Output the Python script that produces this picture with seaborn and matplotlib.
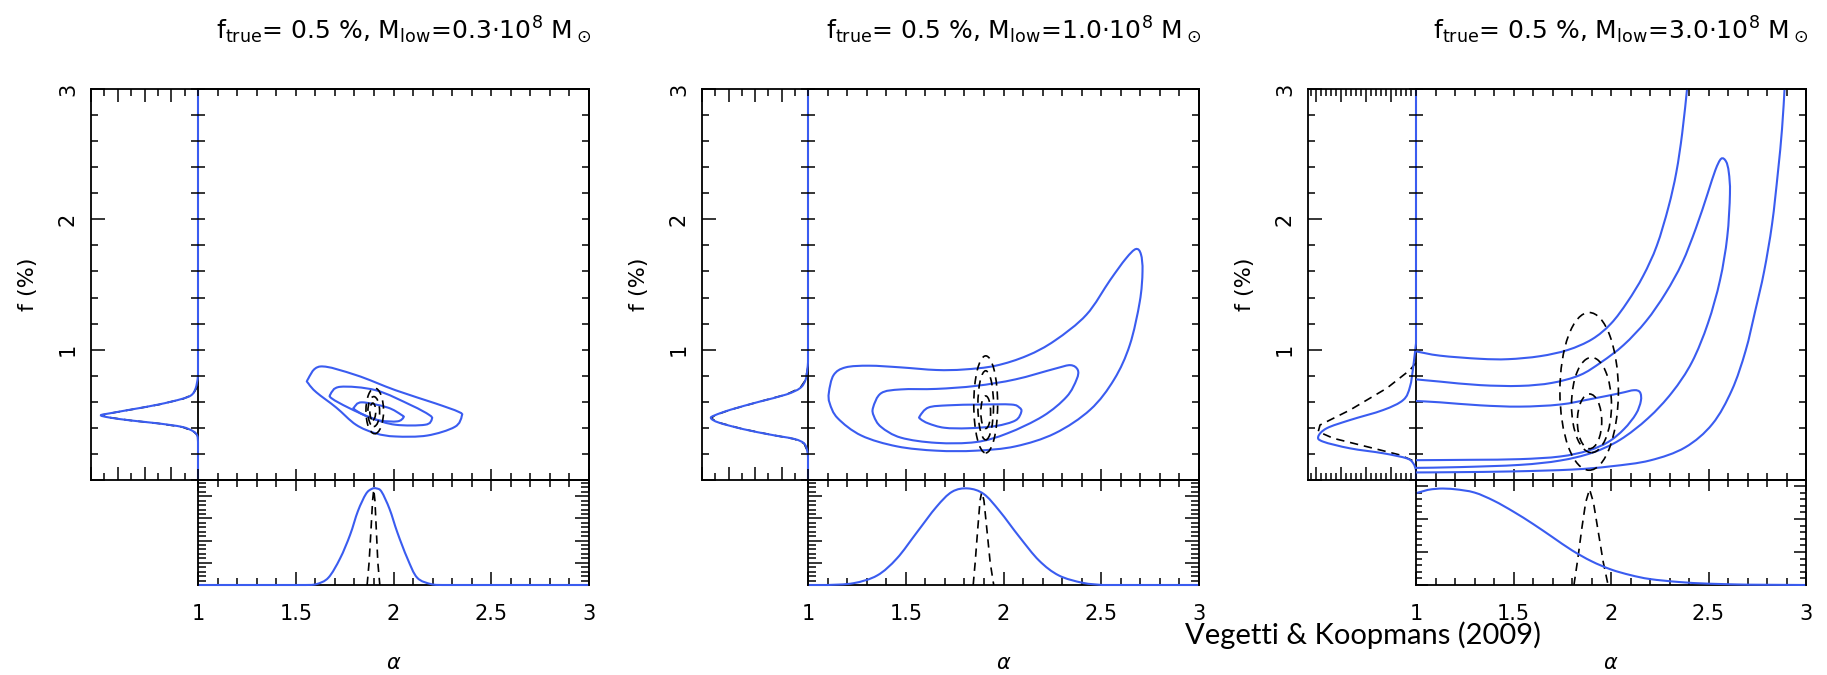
import matplotlib
matplotlib.use("Agg")
import matplotlib.pyplot as plt
import numpy as np
import seaborn as sns
from matplotlib.patches import Ellipse, PathPatch
from matplotlib.path import Path
from matplotlib.ticker import MultipleLocator, FuncFormatter, NullLocator

# ---------------- values ----------------
titles = [
    r"f$_{\rm true}$= 0.5 %, M$_{\rm low}$=0.3$\cdot$10$^8$ M$_\odot$",
    r"f$_{\rm true}$= 0.5 %, M$_{\rm low}$=1.0$\cdot$10$^8$ M$_\odot$",
    r"f$_{\rm true}$= 0.5 %, M$_{\rm low}$=3.0$\cdot$10$^8$ M$_\odot$",
]
alpha_ticks = [1, 1.5, 2, 2.5, 3]

# blue contours (alpha, f[%]) -- panel 1, closed
p1_outer = [(1.562, 0.772), (1.626, 0.871), (1.808, 0.805), (2.010, 0.689), (2.212, 0.589),
            (2.333, 0.523), (2.349, 0.490), (2.313, 0.407), (2.172, 0.341), (2.010, 0.334),
            (1.909, 0.358), (1.808, 0.424), (1.707, 0.556), (1.606, 0.672), (1.566, 0.738)]
p1_middle = [(1.677, 0.656), (1.727, 0.715), (1.909, 0.689), (2.091, 0.573), (2.182, 0.500),
             (2.196, 0.467), (2.162, 0.424), (2.010, 0.424), (1.889, 0.474), (1.768, 0.556),
             (1.687, 0.623)]
p1_inner = [(1.798, 0.556), (1.838, 0.596), (1.970, 0.556), (2.040, 0.500), (2.051, 0.480),
            (2.020, 0.450), (1.929, 0.457), (1.848, 0.500), (1.802, 0.540)]

# panel 2, closed
p2_outer = [(1.107, 0.672), (1.131, 0.805), (1.192, 0.864), (1.313, 0.877), (1.475, 0.864),
            (1.657, 0.844), (1.798, 0.848), (1.960, 0.877), (2.121, 0.954), (2.263, 1.070),
            (2.424, 1.268), (2.545, 1.533), (2.626, 1.699), (2.677, 1.772), (2.703, 1.732),
            (2.711, 1.599), (2.697, 1.368), (2.646, 1.036), (2.566, 0.772), (2.444, 0.540),
            (2.263, 0.358), (2.061, 0.258), (1.859, 0.225), (1.657, 0.225), (1.455, 0.258),
            (1.273, 0.341), (1.152, 0.474), (1.111, 0.589)]
p2_middle = [(1.333, 0.556), (1.374, 0.666), (1.475, 0.695), (1.657, 0.699), (1.859, 0.722),
             (2.061, 0.772), (2.263, 0.854), (2.343, 0.881), (2.380, 0.844), (2.374, 0.772),
             (2.323, 0.639), (2.202, 0.490), (2.020, 0.358), (1.859, 0.291), (1.657, 0.285),
             (1.475, 0.325), (1.374, 0.407), (1.337, 0.490)]
p2_inner = [(1.572, 0.490), (1.616, 0.556), (1.717, 0.573), (1.879, 0.579), (2.040, 0.579),
            (2.081, 0.556), (2.091, 0.523), (2.061, 0.457), (1.960, 0.414), (1.818, 0.397),
            (1.697, 0.401), (1.616, 0.434), (1.576, 0.467)]

# panel 3, open (they leave the box)
p3_outer_top = [(1.000, 0.987), (1.123, 0.954), (1.328, 0.930), (1.472, 0.927), (1.636, 0.950),
                (1.779, 0.998), (1.903, 1.080), (2.000, 1.200), (2.085, 1.368), (2.165, 1.566),
                (2.235, 1.798), (2.295, 2.096), (2.335, 2.361), (2.365, 2.659), (2.390, 3.000)]
p3_outer_right = [(2.890, 3.000), (2.877, 2.692), (2.856, 2.361), (2.826, 1.964), (2.785, 1.599),
                  (2.740, 1.300), (2.690, 0.990), (2.620, 0.690), (2.520, 0.430), (2.380, 0.250),
                  (2.200, 0.150), (2.000, 0.105), (1.800, 0.080), (1.500, 0.066), (1.200, 0.060),
                  (1.000, 0.058)]
p3_middle = [(1.000, 0.772), (1.123, 0.755), (1.328, 0.728), (1.533, 0.722), (1.697, 0.745),
             (1.841, 0.805), (1.950, 0.904), (2.065, 1.036), (2.180, 1.219), (2.280, 1.434),
             (2.365, 1.666), (2.435, 1.930), (2.495, 2.195), (2.535, 2.377), (2.565, 2.465),
             (2.590, 2.444), (2.604, 2.361), (2.610, 2.195), (2.596, 1.864), (2.559, 1.533),
             (2.497, 1.202), (2.415, 0.904), (2.313, 0.672), (2.190, 0.474), (2.046, 0.308),
             (1.903, 0.209), (1.738, 0.149), (1.533, 0.116), (1.226, 0.099), (1.000, 0.093)]
p3_inner = [(1.000, 0.606), (1.123, 0.596), (1.328, 0.573), (1.533, 0.563), (1.738, 0.579),
            (1.903, 0.623), (2.046, 0.666), (2.118, 0.689), (2.149, 0.672), (2.153, 0.606),
            (2.128, 0.507), (2.067, 0.391), (1.985, 0.291), (1.882, 0.225), (1.738, 0.180),
            (1.533, 0.160), (1.287, 0.155), (1.000, 0.152)]

# black dashed contours (centre alpha, centre f, width, height)
p1_dash_alpha = [1.904, 1.899, 1.894]
p1_dash_f = [0.530, 0.525, 0.525]
p1_dash_w = [0.090, 0.060, 0.030]
p1_dash_h = [0.350, 0.230, 0.130]
p2_dash_alpha = [1.909, 1.909, 1.909]
p2_dash_f = [0.580, 0.573, 0.520]
p2_dash_w = [0.122, 0.080, 0.050]
p2_dash_h = [0.745, 0.530, 0.250]
p3_dash_alpha = [1.888, 1.900, 1.890]
p3_dash_f = [0.680, 0.575, 0.450]
p3_dash_w = [0.300, 0.205, 0.125]
p3_dash_h = [1.210, 0.730, 0.420]

# left marginals: f and density (blue solid, black dashed)
p1_left_f = [3.0, 0.805, 0.722, 0.656, 0.623, 0.579, 0.540, 0.513, 0.497, 0.480, 0.457,
             0.434, 0.407, 0.374, 0.341, 0.291, 0.0]
p1_left_d = [0, 0, 0.06, 0.22, 0.59, 1.48, 2.52, 3.26, 3.63, 3.33, 2.52, 1.48, 0.59, 0.18,
             0.03, 0, 0]
p1_left_dash_f = [0.722, 0.656, 0.623, 0.579, 0.540, 0.513, 0.497, 0.480, 0.457, 0.434,
                  0.407, 0.374, 0.341]
p1_left_dash_d = [0, 0.20, 0.55, 1.45, 2.50, 3.25, 3.62, 3.33, 2.52, 1.48, 0.59, 0.18, 0]

p2_left_f = [3.0, 0.904, 0.838, 0.765, 0.705, 0.656, 0.599, 0.540, 0.497, 0.474, 0.440,
             0.391, 0.348, 0.315, 0.281, 0.225, 0.175, 0.0]
p2_left_d = [0, 0, 0.03, 0.10, 0.30, 0.82, 1.87, 2.91, 3.51, 3.66, 3.36, 2.46, 1.42, 0.52,
             0.15, 0.03, 0, 0]
p2_left_dash_f = [0.87, 0.765, 0.705, 0.656, 0.599, 0.540, 0.497, 0.474, 0.440, 0.391,
                  0.348, 0.315, 0.281, 0.225, 0.20]
p2_left_dash_d = [0, 0.10, 0.30, 0.82, 1.87, 2.91, 3.51, 3.66, 3.36, 2.46, 1.42, 0.52,
                  0.15, 0.03, 0]

p3_left_f = [3.0, 1.05, 0.87, 0.716, 0.614, 0.537, 0.46, 0.397, 0.333, 0.294, 0.243,
             0.205, 0.166, 0.128, 0.077, 0.0]
p3_left_d = [0, 0, 0.11, 0.24, 0.51, 1.31, 2.64, 3.57, 3.91, 3.71, 2.64, 1.31, 0.37, 0.11,
             0, 0]
p3_left_dash_f = [0.90, 0.844, 0.704, 0.537, 0.422, 0.371, 0.320, 0.256, 0.192, 0.141, 0.10]
p3_left_dash_d = [0, 0.24, 1.17, 2.64, 3.84, 3.91, 3.31, 1.97, 0.64, 0.04, 0]

# bottom marginals: alpha and density
p1_bot_a = [1.0, 1.55, 1.606, 1.667, 1.727, 1.778, 1.818, 1.859, 1.889, 1.913, 1.939,
            1.980, 2.020, 2.071, 2.121, 2.192, 2.25, 3.0]
p1_bot_u = [0, 0, 0.04, 0.33, 1.20, 2.26, 3.33, 4.10, 4.33, 4.35, 4.20, 3.42, 2.36, 1.20,
            0.33, 0.04, 0, 0]
p1_bot_dash_a = [1.865, 1.875, 1.885, 1.893, 1.899, 1.905, 1.912, 1.920, 1.930]
p1_bot_dash_u = [0, 1.0, 2.5, 3.8, 4.3, 3.8, 2.5, 1.0, 0]

p2_bot_a = [1.0, 1.10, 1.232, 1.354, 1.455, 1.556, 1.657, 1.737, 1.818, 1.899, 1.980,
            2.081, 2.182, 2.283, 2.404, 2.505, 3.0]
p2_bot_u = [0, 0, 0.08, 0.43, 1.20, 2.36, 3.52, 4.20, 4.35, 4.10, 3.33, 2.17, 1.10, 0.43,
            0.10, 0, 0]
p2_bot_dash_a = [1.845, 1.855, 1.868, 1.880, 1.889, 1.900, 1.915, 1.932, 1.950]
p2_bot_dash_u = [0, 1.0, 2.5, 3.8, 4.2, 3.8, 2.5, 1.0, 0]

p3_bot_a = [1.0, 1.06, 1.12, 1.2, 1.3, 1.4, 1.5, 1.6, 1.7, 1.8, 1.9, 2.0, 2.1, 2.2, 2.35,
            2.5, 2.7, 3.0]
p3_bot_u = [2.78, 2.88, 2.92, 2.90, 2.80, 2.55, 2.22, 1.85, 1.45, 1.05, 0.72, 0.47, 0.30,
            0.18, 0.09, 0.04, 0.01, 0]
p3_bot_dash_a = [1.81, 1.83, 1.85, 1.87, 1.89, 1.91, 1.935, 1.96, 1.985]
p3_bot_dash_u = [0, 0.8, 1.7, 2.5, 2.9, 2.5, 1.6, 0.7, 0]

panels = [
    dict(closed=True, contours=[p1_outer, p1_middle, p1_inner],
         dash=(p1_dash_alpha, p1_dash_f, p1_dash_w, p1_dash_h),
         left=(p1_left_d, p1_left_f), left_dash=(p1_left_dash_d, p1_left_dash_f),
         bot=(p1_bot_a, p1_bot_u), bot_dash=(p1_bot_dash_a, p1_bot_dash_u)),
    dict(closed=True, contours=[p2_outer, p2_middle, p2_inner],
         dash=(p2_dash_alpha, p2_dash_f, p2_dash_w, p2_dash_h),
         left=(p2_left_d, p2_left_f), left_dash=(p2_left_dash_d, p2_left_dash_f),
         bot=(p2_bot_a, p2_bot_u), bot_dash=(p2_bot_dash_a, p2_bot_dash_u)),
    dict(closed=False, contours=[p3_outer_top, p3_outer_right, p3_middle, p3_inner],
         dash=(p3_dash_alpha, p3_dash_f, p3_dash_w, p3_dash_h),
         left=(p3_left_d, p3_left_f), left_dash=(p3_left_dash_d, p3_left_dash_f),
         bot=(p3_bot_a, p3_bot_u), bot_dash=(p3_bot_dash_a, p3_bot_dash_u)),
]

# ---------------- layout (pixels of the 1827x675 canvas) ----------------
W, H = 1827, 675
lm_left = [91, 702, 1308]
split = [198, 808, 1416]
right = [589, 1199, 1806]
TOP, MID, BOT = 89, 480, 585
lm_xmax = [4.0, 4.0, 4.32]
lm_minor = [0.5, 0.5, 0.2]
bm_ymax = [4.73, 4.73, 3.18]
bm_major_len = [10, 10, 8.5]
bm_minor_len = [5.5, 5.5, 4.3]

BLUE = "#3a5cf0"
LW = 1.5
DASH = (0, (5, 3.5))

sns.set_style("ticks", {"axes.edgecolor": "black", "xtick.color": "black",
                        "ytick.color": "black", "text.color": "black"})
plt.rcParams["font.family"] = ["DejaVu Sans"]
plt.rcParams["mathtext.fontset"] = "dejavusans"
plt.rcParams["axes.linewidth"] = 1.3


def box(x0, x1, y0, y1):
    return [x0 / W, 1 - y1 / H, (x1 - x0) / W, (y1 - y0) / H]


def catmull(p, closed):
    # bezier segments of a Catmull-Rom curve through the read points
    p = np.asarray(p, float)
    if closed:
        p = np.vstack([p[-1], p, p[0], p[1]])
    else:
        p = np.vstack([p[0], p, p[-1]])
    verts, codes = [], []
    for i in range(1, len(p) - 2):
        verts += [p[i] + (p[i + 1] - p[i - 1]) / 6, p[i + 1] - (p[i + 2] - p[i]) / 6, p[i + 1]]
        codes += [Path.CURVE4] * 3
    return verts, codes, p[1]


def smooth(points, closed):
    verts, codes, start = catmull(points, closed)
    return Path([start] + verts, [Path.MOVETO] + codes)


def marginal_path(xs, ys):
    # straight run along the baseline at both ends, smooth bump in between
    pts = np.column_stack([xs, ys])
    verts, codes, _ = catmull(pts[1:-1], False)
    verts = [pts[0], pts[1]] + verts + [pts[-1]]
    codes = [Path.MOVETO, Path.LINETO] + codes + [Path.LINETO]
    return Path(verts, codes)


fig = plt.figure(figsize=(W / 100, H / 100), dpi=100)
fig.patch.set_facecolor("white")
label_fmt = FuncFormatter(lambda v, pos: "" if abs(v) < 1e-9 else f"{v:g}")

for i, pnl in enumerate(panels):
    # ---- left marginal (f distribution) ----
    lm = fig.add_axes(box(lm_left[i], split[i], TOP, MID))
    lm.patch.set_alpha(0)
    d, f = pnl["left"]
    lm.add_patch(PathPatch(marginal_path(d, f), fill=False, ec=BLUE, lw=LW,
                           clip_on=False, zorder=2.2))
    d, f = pnl["left_dash"]
    sns.lineplot(x=d, y=f, sort=False, estimator=None, color="black", lw=1.2,
                 linestyle=DASH, ax=lm, clip_on=False, zorder=2.1)
    lm.set_xlim(lm_xmax[i], 0)
    lm.set_ylim(0, 3)
    lm.set_xlabel("")
    lm.set_ylabel("")
    lm.xaxis.set_major_locator(MultipleLocator(1))
    lm.xaxis.set_minor_locator(MultipleLocator(lm_minor[i]))
    lm.yaxis.set_major_locator(MultipleLocator(1))
    lm.yaxis.set_minor_locator(MultipleLocator(0.2))
    lm.yaxis.set_major_formatter(label_fmt)
    lm.tick_params(axis="x", which="both", direction="in", top=True, bottom=True,
                   labelbottom=False, width=1.1)
    lm.tick_params(axis="x", which="major", length=9.5)
    lm.tick_params(axis="x", which="minor", length=5)
    lm.tick_params(axis="y", which="both", direction="in", left=True, right=False,
                   labelleft=True, width=1.1, labelsize=15, pad=9.4, labelrotation=90)
    lm.tick_params(axis="y", which="major", length=10)
    lm.tick_params(axis="y", which="minor", length=5)
    for lab in lm.get_yticklabels():
        lab.set_va("center")
    lm.spines["right"].set_zorder(1)

    # ---- bottom marginal (alpha distribution) ----
    bm = fig.add_axes(box(split[i], right[i], MID, BOT))
    bm.patch.set_alpha(0)
    a, u = pnl["bot"]
    bm.add_patch(PathPatch(marginal_path(a, u), fill=False, ec=BLUE, lw=LW,
                           clip_on=False, zorder=2.2))
    a, u = pnl["bot_dash"]
    sns.lineplot(x=a, y=u, sort=False, estimator=None, color="black", lw=1.2,
                 linestyle=DASH, ax=bm, zorder=2.1)
    bm.set_xlim(1, 3)
    bm.set_ylim(0, bm_ymax[i])
    bm.set_xlabel("")
    bm.set_ylabel("")
    bm.set_xticks(alpha_ticks)
    bm.set_xticklabels([f"{v:g}" for v in alpha_ticks])
    bm.xaxis.set_minor_locator(MultipleLocator(0.1))
    bm.yaxis.set_major_locator(MultipleLocator(1))
    bm.yaxis.set_minor_locator(MultipleLocator(0.2))
    bm.tick_params(axis="x", which="both", direction="in", bottom=True, top=False,
                   labelbottom=True, width=1.1, labelsize=15, pad=13.5)
    bm.tick_params(axis="x", which="major", length=9.5)
    bm.tick_params(axis="x", which="minor", length=5)
    bm.tick_params(axis="y", which="both", direction="in", left=True, right=True,
                   labelleft=False, width=1.1)
    bm.tick_params(axis="y", which="major", length=bm_major_len[i])
    bm.tick_params(axis="y", which="minor", length=bm_minor_len[i])
    bm.spines["bottom"].set_zorder(1)

    # ---- main 2D panel ----
    ax = fig.add_axes(box(split[i], right[i], TOP, MID))
    ax.patch.set_alpha(0)
    for pts in pnl["contours"]:
        ax.add_patch(PathPatch(smooth(pts, pnl["closed"]), fill=False, ec=BLUE, lw=LW,
                               zorder=2))
    ca, cf, cw, ch = pnl["dash"]
    for k in range(len(ca)):
        ax.add_patch(Ellipse((ca[k], cf[k]), cw[k], ch[k], fill=False, ec="black", lw=1.2,
                             ls=DASH, zorder=2.1))
    ax.set_xlim(1, 3)
    ax.set_ylim(0, 3)
    ax.spines["left"].set_visible(False)
    ax.xaxis.set_major_locator(MultipleLocator(0.5))
    ax.xaxis.set_minor_locator(MultipleLocator(0.1))
    ax.yaxis.set_major_locator(MultipleLocator(1))
    ax.yaxis.set_minor_locator(MultipleLocator(0.2))
    ax.tick_params(axis="x", which="both", direction="inout", bottom=True, top=False,
                   labelbottom=False, width=1.1)
    ax.tick_params(axis="x", which="major", length=16)
    ax.tick_params(axis="x", which="minor", length=9.5)
    ax.tick_params(axis="y", which="both", direction="inout", left=True, right=False,
                   labelleft=False, width=1.1, length=9.5)
    top = ax.secondary_xaxis("top")
    top.xaxis.set_major_locator(MultipleLocator(0.1))
    top.xaxis.set_minor_locator(NullLocator())
    top.tick_params(axis="x", which="both", direction="in", length=5, width=1.1,
                    labeltop=False)
    rgt = ax.secondary_yaxis("right")
    rgt.yaxis.set_major_locator(MultipleLocator(0.2))
    rgt.yaxis.set_minor_locator(NullLocator())
    rgt.tick_params(axis="y", which="both", direction="in", length=5, width=1.1,
                    labelright=False)

    # ---- texts ----
    cx = (split[i] + right[i]) / 2
    fig.text((cx + 10) / W, 1 - 39 / H, titles[i], ha="center", va="baseline", fontsize=18)
    fig.text((lm_left[i] - 63) / W, 1 - (TOP + MID) / 2 / H, "f (%)", rotation=90,
             ha="center", va="center", fontsize=16)
    fig.text(cx / W, 1 - 663 / H, r"$\alpha$", ha="center", va="center", fontsize=15)

fig.text(1185 / W, 1 - 644 / H, "Vegetti & Koopmans (2009)", ha="left", va="baseline",
         fontsize=21, family=["Lato", "DejaVu Sans"])

fig.savefig("out.png", dpi=100)
